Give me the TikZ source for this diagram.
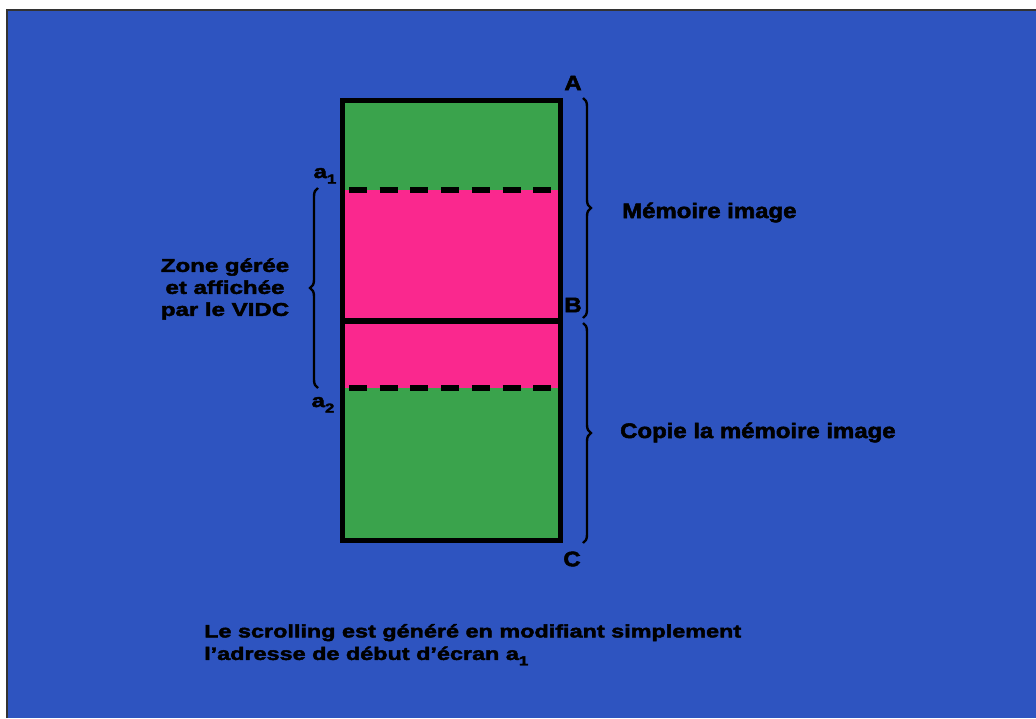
\documentclass[tikz,border=0pt]{standalone}
\usepackage{fontspec}
\setmainfont{Liberation Sans}[FakeStretch=1.3,BoldFeatures={FakeBold=2.5}]
\newfontfamily\policelarge{Liberation Sans}[FakeStretch=1.14,BoldFeatures={FakeBold=2.5}]
\usetikzlibrary{decorations.pathreplacing}
\definecolor{fond}{RGB}{46,84,192}
\definecolor{vert}{RGB}{58,163,76}
\definecolor{rose}{RGB}{250,40,142}
\tikzset{
  lbl/.style={font=\bfseries\fontsize{18.5}{22}\selectfont,inner sep=0pt},
  titre/.style={font=\policelarge\bfseries\fontsize{21}{24}\selectfont,inner sep=0pt},
  accolade/.style={decorate,decoration={brace,amplitude=8pt},line width=2.4pt},
  pointille/.style={line width=6pt,dash pattern=on 18pt off 12.7pt,dash phase=-4pt},
}
\newcommand{\indice}[1]{\raisebox{-0.3em}{\fontsize{13}{13}\selectfont #1}}
\begin{document}
\begin{tikzpicture}[x=1pt,y=-1pt]
\useasboundingbox (0,0) rectangle (1036,718);
\fill[white] (0,0) rectangle (1036,718);
\fill[fond] (7,10) rectangle (1036,718);
\draw[line width=1.2pt,black!80] (7,718) -- (7,10) -- (1036,10);
% memoire
\fill[vert] (342.5,100.5) rectangle (560.5,190);
\fill[rose] (342.5,190) rectangle (560.5,388);
\fill[vert] (342.5,388) rectangle (560.5,540.5);
\draw[pointille] (345,190) -- (558,190);
\draw[pointille] (345,388) -- (558,388);
\draw[line width=6pt] (342.5,320.5) -- (560.5,320.5);
\draw[line width=5pt] (342.5,100.5) rectangle (560.5,540.5);
% accolades
\coordinate (hautA) at (583,98);
\coordinate (basB) at (583,318);
\coordinate (hautB) at (583,323);
\coordinate (basC) at (583,543);
\coordinate (hautZ) at (318,188);
\coordinate (basZ) at (318,388);
\draw[accolade] (hautA) -- (basB);
\draw[accolade] (hautB) -- (basC);
\draw[accolade] (basZ) -- (hautZ);
% textes
\node[titre] (A) at (573,83) {A};
\node[titre] (B) at (573,305) {B};
\node[titre] (C) at (572,559) {C};
\node[lbl,anchor=base] (a1) at (325,178) {a\indice{1}};
\node[lbl,anchor=base] (a2) at (323,407) {a\indice{2}};
\node[titre,anchor=base west] (mem) at (622,218) {Mémoire image};
\node[titre,anchor=base west] (copie) at (620,438) {Copie la mémoire image};
\node[lbl,align=center] (zone) at (225,289) {Zone gérée\\et affichée\\par le VIDC};
\node[lbl,align=left,anchor=north west,font=\bfseries\fontsize{18}{22.5}\selectfont] (note) at (204,624)
  {Le scrolling est généré en modifiant simplement\\l’adresse de début d’écran a\indice{1}};
\end{tikzpicture}
\end{document}
